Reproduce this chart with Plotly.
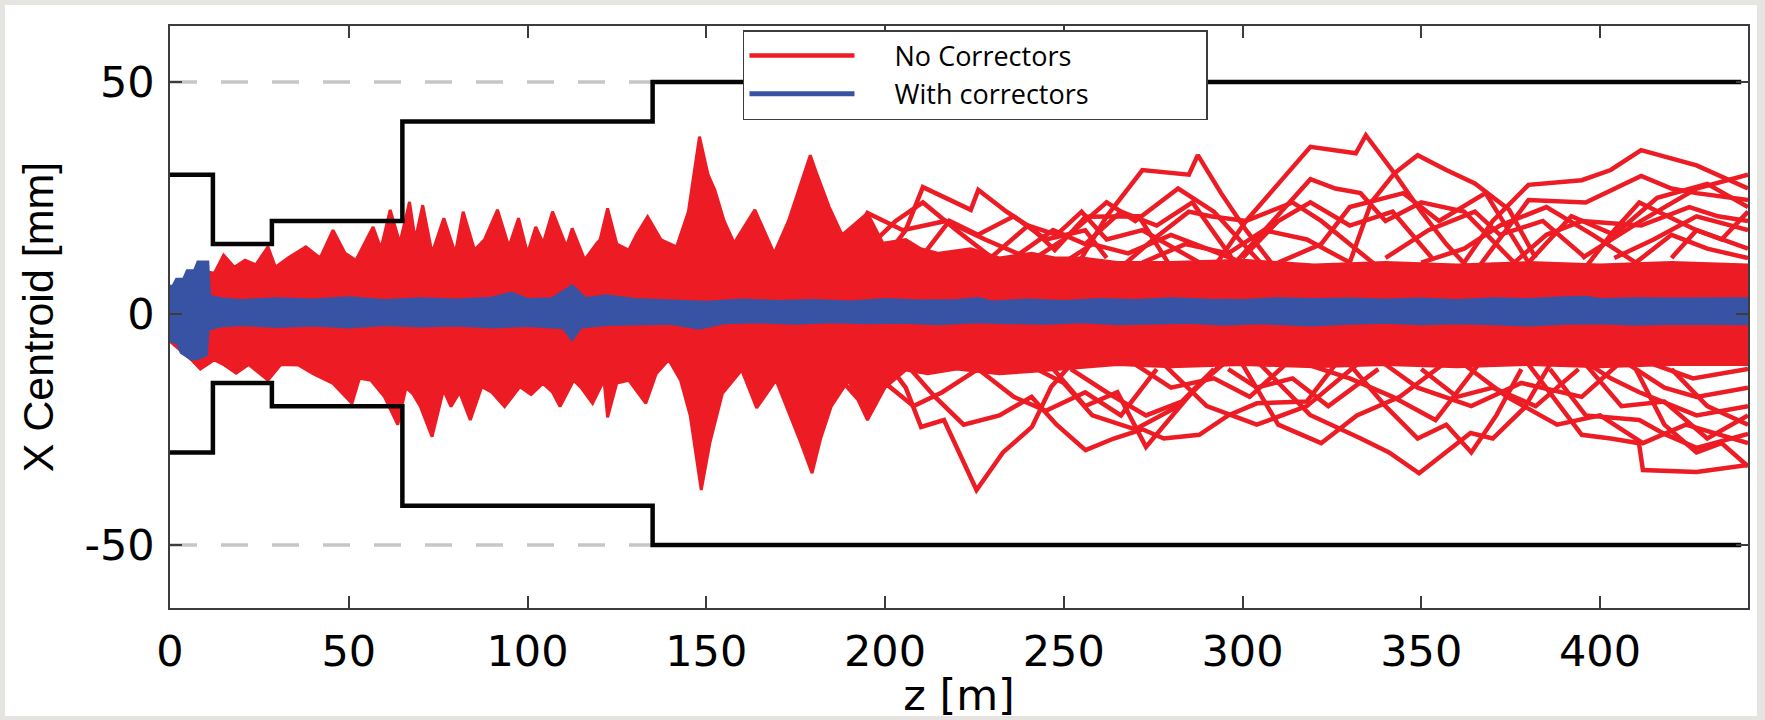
import plotly.graph_objects as go

# ---------------- data ----------------
# axis extents
z_extent = [0, 441.4]
y_extent = [-63.6, 62.1]

# tick labels
x_tick_vals = [0, 50, 100, 150, 200, 250, 300, 350, 400]
x_tick_text = ["0", "50", "100", "150", "200", "250", "300", "350", "400"]
y_tick_vals = [-50, 0, 50]
y_tick_text = ["-50", "0", "50"]

# dashed reference levels
ref_levels = [50, -50]
ref_z = [0, 441.4]

# aperture (half width, mm) as a step function of z (m)
aperture_z = [0, 12, 28.5, 65, 135, 439.5]
aperture_half = [30, 15, 20, 41.5, 50, 50]

# envelope of the dense "No Correctors" bundle (upper edge)
red_top_z = [0, 3, 6, 8.5, 10.5, 12.4, 15, 18, 21, 24, 27.4, 29.5, 33, 38, 42, 45.6, 49, 52,
             56.8, 59, 61.6, 64.3, 67, 68.6, 70.7, 73.3, 76.6, 79.8, 82, 85.2, 88, 91.6, 94.8,
             97.5, 100, 102.3, 104.4, 107, 110.9, 112.5, 116, 119.4, 120.3, 122.4, 125, 128.3,
             130.5, 133.6, 137.4, 141.7, 145, 148.1, 150.5, 152.4, 155, 157.8, 163.6, 169, 173,
             176, 179.1, 181, 184.4, 188, 191, 195.1, 199.4, 205.8, 210, 215, 224, 232, 241,
             247.5, 255, 265, 280, 300, 320, 340, 360, 380, 400, 420, 441.4]
red_top_y = [5.5, 7, 8.5, 9.5, 9, 8.7, 12.6, 10, 11.5, 10.5, 14.4, 10, 12, 14.4, 12, 18, 13, 11.5,
             18.7, 14, 22.4, 15.2, 24.1, 15.9, 23.4, 13, 20.6, 13, 22, 13.7, 16, 22.4, 14.4,
             20.6, 13, 18.7, 15.2, 22, 14.4, 18.4, 11.6, 15.2, 15.9, 22.7, 15, 13.7,
             17, 20.9, 15.9, 14.4, 22, 38.2, 30, 26.7, 20, 15.2, 22.4, 13, 20,
             27, 34.2, 30, 23, 17, 19, 21.7, 15.2, 16, 14, 13, 14, 12, 13,
             12, 12, 11, 11, 11.5, 10.5, 11, 10.5, 11, 10.5, 11, 10.5]
# envelope of the dense "No Correctors" bundle (lower edge)
red_bot_z = [0, 3, 6, 8.5, 10.5, 12.4, 15.2, 18.5, 22, 27.4, 31, 35.9, 40, 45.6, 50.9, 53, 56.2,
             60, 63.7, 66, 67.9, 70, 73.3, 76.5, 78.6, 81, 84, 87.2, 90, 93.6, 97.9, 101, 104.3,
             107, 109.1, 112.9, 115, 118.2, 121.4, 122.4, 125, 128.3, 133.1, 136, 139.5, 142.8,
             145.5, 148.6, 151, 154.5, 159.9, 164.1, 169.5, 173, 176.5, 179.6, 182, 185, 189.8,
             195.1, 200, 205.8, 212, 220, 232, 241, 250, 265, 280, 300, 320, 340, 360, 380, 400,
             420, 441.4]
red_bot_y = [-6, -8, -10, -12, -11, -10, -11.1, -12.9, -11, -14.4, -11, -11.1, -13, -15.1, -19.4, -14, -14.4,
             -18, -24, -16, -17.3, -20, -26.6, -16.5, -20.1, -17, -23, -15.8, -17, -20.1, -15.8, -17.5, -15.1,
             -17, -20.1, -14.4, -16, -19.4, -14.4, -22.4, -15, -14.4, -19.4, -13, -10, -14.4,
             -22, -38.1, -28, -17.3, -12.2, -20.4, -14.4, -21, -28, -34.5, -27, -20, -14.4,
             -23, -16, -12.2, -13, -12, -13, -12.5, -12, -11, -11.5, -11, -11.5, -11, -11.5, -11, -11.5,
             -11, -11]

# individual "No Correctors" trajectories that stand out above the bundle
red_upper_lines_z = [
    [198, 205.8, 210.6, 217, 224, 226.1, 234, 241.1, 247.5, 256.1, 271, 280],
    [255, 262, 272, 279, 285, 287.5, 294, 301, 308],
    [292, 301, 310, 319, 331.7, 334.5, 342.5, 350, 357, 363],
    [330, 336, 342.5, 349, 357, 365, 374.6, 382],
    [362, 370, 380, 394.9, 403, 411.5, 427, 441.4],
    [366, 380, 396, 411.5, 420, 427, 441.4],
    [298, 305, 319, 326, 333, 340, 350, 362, 376],
    [266, 275, 285, 291, 301, 314, 322, 338],
    [376, 385, 395, 411.5, 425, 433, 441.4],
    [396, 404, 411, 419, 427, 441.4],
    [188, 195.1, 205, 217, 228, 240],
    [228, 240, 248, 255, 262, 272, 288],
    [395, 411.5, 427, 441.4],
    [180, 186, 195, 203, 210.6, 220, 230],
    [210, 218, 226, 236, 245, 256, 262],
    [236, 247, 256, 266, 276, 286, 297],
    [300, 310, 319, 330, 342, 353],
    [340, 352, 365, 372, 384, 396],
    [420, 427, 434, 441.4],
    [404, 415, 427, 441.4],
    [250, 258, 268, 280, 290, 300],
    [240, 250, 262, 270, 282, 292, 305],
    [310, 322, 330, 345, 355, 368, 380],
    [350, 362, 372, 385, 398, 410],
    [380, 392, 404, 416, 430, 441.4],
    [272, 284, 296, 306, 318, 330],
    [410, 420, 430, 441.4],
]
red_upper_lines_y = [
    [10, 18, 27.3, 25, 22.4, 26.7, 22, 18.4, 13.7, 20.9, 21, 10],
    [12, 21, 31, 30.5, 30, 34.2, 26, 18, 11],
    [10, 20, 28, 36, 34.6, 38.5, 30.3, 22, 15, 10],
    [11, 24, 30.3, 34.2, 31, 28.1, 22.4, 12],
    [11, 20, 27.8, 28.8, 31, 35.3, 32, 27],
    [10, 24.5, 24, 29.7, 27, 26, 24.5],
    [11, 17, 29, 27, 26, 20, 24, 22, 11],
    [10, 16, 22, 21, 20, 24, 20, 10],
    [11, 17, 20, 19, 23, 21, 20],
    [10, 18, 24, 21, 18, 14],
    [11, 21.7, 18, 20, 16, 12],
    [11, 19, 17, 22, 16, 18, 11],
    [12, 20, 27, 30],
    [12, 18, 14, 20, 24, 18, 12],
    [12, 20, 17, 21, 16, 18, 12],
    [12, 18, 15, 22, 19, 24, 12],
    [12, 20, 24, 19, 22, 12],
    [12, 18, 22, 17, 20, 12],
    [12, 18, 16, 22],
    [12, 16, 21, 18],
    [11, 15, 13, 17, 14, 11],
    [11, 16, 24, 20, 27, 22, 11],
    [11, 15, 23, 26, 20, 26, 11],
    [11, 14, 19, 23, 17, 11],
    [11, 21, 17, 25, 28, 23],
    [11, 15, 13, 18, 16, 11],
    [11, 17, 14, 12],
]
red_lower_lines_z = [
    [200, 205.8, 210.1, 216.5, 225.6, 233, 241.1, 246.5, 252],
    [206, 214, 222, 232, 241, 248, 256.1, 264, 272, 278, 287.9, 296, 304, 318, 326],
    [246, 256, 265, 273, 287, 296],
    [305, 318.9, 332.8, 341, 349.4, 357, 363.8, 370, 378.8, 386],
    [330, 340, 349, 357, 364, 371, 378],
    [380, 394.9, 403, 410.9, 412, 427, 441.4],
    [386, 396, 411, 418, 427, 441.4],
    [395, 403, 411, 427, 441.4],
    [278, 290, 304, 318, 332],
    [408, 418, 427, 441.4],
    [340, 349, 364, 378, 394.9, 405],
    [410, 418, 427, 434, 441.4],
    [185, 192, 200, 208, 216, 226],
    [226, 236, 245, 256, 266, 276],
    [252, 262, 273, 283, 292],
    [296, 304, 314, 324, 338],
    [350, 360, 370, 382, 394],
    [420, 430, 441.4],
    [240, 250, 258, 270, 282, 294],
    [300, 310, 322, 332, 344, 356],
    [318, 330, 342, 354, 366],
    [362, 374, 388, 400, 412, 424, 441.4],
    [396, 406, 418, 430, 441.4],
    [270, 280, 292, 302, 312],
    [415, 426, 441.4],
]
red_lower_lines_y = [
    [-10, -16, -24.5, -23, -38.1, -30, -24.5, -15.8, -11],
    [-11, -18, -24, -22, -18, -24, -29.5, -27, -25, -27, -26.2, -22, -19.4, -19, -11],
    [-11, -20, -17, -28.8, -16, -10],
    [-11, -21.9, -26.9, -30, -34.5, -30, -25.8, -27, -20.4, -11],
    [-11, -20, -27, -24, -30, -22, -12],
    [-11, -26.2, -27, -28, -33.8, -34.2, -32.7],
    [-12, -22, -23, -26, -29, -26],
    [-10, -14, -17, -22, -20],
    [-11, -20, -24, -20, -11],
    [-11, -16, -18, -16],
    [-11, -16, -20, -15, -18, -11],
    [-12, -24, -30, -28, -33],
    [-12, -18, -15, -20, -17, -12],
    [-12, -18, -21, -17, -22, -12],
    [-12, -17, -22, -19, -12],
    [-12, -16, -14, -20, -12],
    [-12, -18, -16, -20, -12],
    [-12, -20, -24],
    [-11, -15, -22, -25, -20, -11],
    [-11, -24, -28, -22, -18, -11],
    [-11, -14, -18, -23, -11],
    [-11, -18, -24, -22, -28, -24, -28],
    [-11, -20, -19, -27, -22],
    [-11, -16, -14, -18, -11],
    [-11, -14, -12],
]

# envelope of the "With correctors" bundle
blue_top_z = [0, 1, 2, 4, 5, 7, 8, 10.3, 10.8, 14, 20, 30, 40, 50, 60, 70, 80, 90, 95.6, 100, 107,
              112.5, 116, 122, 130, 140, 150, 160, 170, 180, 190, 200, 210, 220, 226, 230, 240, 250,
              260, 270, 280, 290, 300, 310, 320, 330, 340, 350, 360, 370, 380, 390, 396, 400, 410,
              420, 441.4]
blue_top_y = [5.7, 5.7, 7.2, 7.2, 9, 9, 10.9, 10.9, 3.6, 3.0, 2.6, 3.0, 2.7, 3.2, 2.6, 3.0, 2.7, 3.1, 4.2, 2.8, 3.0,
              5.7, 3.0, 3.6, 2.8, 2.6, 2.2, 2.7, 2.4, 2.6, 2.3, 2.8, 2.5, 2.6, 3.0, 2.3, 2.7, 2.4,
              2.8, 2.6, 3.0, 2.7, 2.6, 3.0, 2.8, 2.9, 2.7, 2.9, 2.6, 3.0, 2.8, 3.2, 3.3, 2.8, 3.0,
              2.9, 3.0]
blue_bot_z = [0, 2, 3, 6, 8, 10.3, 10.8, 14, 20, 30, 40, 50, 60, 70, 80, 90, 100, 110, 112.5, 115,
              122, 130, 140, 148, 155, 165, 175, 185, 195, 205, 215, 225, 235, 245, 255, 265, 275,
              285, 295, 305, 319, 330, 340, 350, 360, 370, 380, 390, 400, 410, 420, 441.4]
blue_bot_y = [-6, -6.5, -8.5, -10, -9.8, -9, -3.5, -2.8, -2.5, -2.9, -2.6, -3.0, -2.5, -2.8, -2.6, -3.0, -2.7, -3.2, -5.8, -3.0,
              -2.5, -2.4, -2.2, -3.3, -2.1, -1.9, -2.2, -1.9, -2.1, -2.0, -2.3, -1.9, -2.1, -2.2, -1.9, -2.3, -2.1,
              -2.0, -2.4, -2.1, -2.6, -2.2, -2.0, -2.3, -2.1, -2.3, -2.6, -2.2, -2.1, -2.4, -2.2, -2.3]

series_names = ["No Correctors", "With correctors"]

# ---------------- styling ----------------
RED = "#ED1C24"
BLUE = "#3953A4"
BLACK = "#050505"
AXIS = "#3c3c3c"
NB = "\u00a0"
LEAD = NB * 5
TRAIL = NB * 16

fig = go.Figure()

for lvl in ref_levels:
    fig.add_trace(go.Scatter(x=ref_z, y=[lvl] * len(ref_z), mode="lines",
                             line=dict(color="#c6c6c6", width=3.5, dash="27px,24px"),
                             showlegend=False, hoverinfo="skip"))

# dense red bundle
fig.add_trace(go.Scatter(x=red_top_z + red_bot_z[::-1], y=red_top_y + red_bot_y[::-1],
                         mode="lines", fill="toself", fillcolor=RED,
                         line=dict(color=RED, width=3), showlegend=False, hoverinfo="skip"))

first = True
for zs, ys in list(zip(red_upper_lines_z, red_upper_lines_y)) + list(zip(red_lower_lines_z, red_lower_lines_y)):
    fig.add_trace(go.Scatter(x=zs, y=ys, mode="lines", line=dict(color=RED, width=4.5),
                             name=LEAD + series_names[0] + TRAIL, showlegend=first,
                             hoverinfo="skip"))
    first = False

# blue bundle
fig.add_trace(go.Scatter(x=blue_top_z + blue_bot_z[::-1], y=blue_top_y + blue_bot_y[::-1],
                         mode="lines", fill="toself", fillcolor=BLUE,
                         line=dict(color=BLUE, width=2), showlegend=False, hoverinfo="skip"))
fig.add_trace(go.Scatter(x=blue_top_z, y=blue_top_y, mode="lines", line=dict(color=BLUE, width=5),
                         name=LEAD + series_names[1] + TRAIL, showlegend=True, hoverinfo="skip"))

# aperture
for sign in (1, -1):
    fig.add_trace(go.Scatter(x=aperture_z, y=[sign * a for a in aperture_half], mode="lines",
                             line=dict(color=BLACK, width=4.5, shape="hv"),
                             showlegend=False, hoverinfo="skip"))

tick_font = dict(family="DejaVu Sans", size=43, color="black")

fig.update_layout(
    width=1765, height=720,
    margin=dict(l=170, r=17, t=26, b=112),
    paper_bgcolor="#e6e4e0",
    plot_bgcolor="white",
    legend=dict(x=0.3631, y=0.9931, xanchor="left", yanchor="top",
                bgcolor="white", bordercolor=AXIS, borderwidth=1.5,
                font=dict(family="Open Sans", size=27, color="black"),
                itemwidth=105, tracegroupgap=0),
    shapes=[dict(type="rect", xref="paper", yref="paper", x0=-0.1046, x1=1.0057,
                 y0=-0.1856, y1=1.0361, fillcolor="white", line_width=0, layer="below")],
)
fig.update_xaxes(range=z_extent, showline=True, mirror="ticks", linecolor=AXIS, linewidth=1.5,
                 ticks="inside", ticklen=12, tickwidth=1.5, tickcolor=AXIS,
                 tickvals=x_tick_vals, ticktext=x_tick_text, tickfont=tick_font,
                 ticklabelstandoff=5, showgrid=False, zeroline=False,
                 title=dict(text="z [m]", font=tick_font, standoff=0))
fig.update_yaxes(range=y_extent, showline=True, mirror="ticks", linecolor=AXIS, linewidth=1.5,
                 ticks="inside", ticklen=12, tickwidth=1.5, tickcolor=AXIS,
                 tickvals=y_tick_vals, ticktext=y_tick_text, tickfont=tick_font,
                 ticklabelstandoff=5, showgrid=False, zeroline=False,
                 title=dict(text="X Centroid [mm]",
                            font=dict(family="Liberation Sans", size=43, color="black"),
                            standoff=17))

fig.write_html("out.html", config={"displayModeBar": False},
               post_script="document.body.style.margin='0';document.body.style.overflow='hidden';")
